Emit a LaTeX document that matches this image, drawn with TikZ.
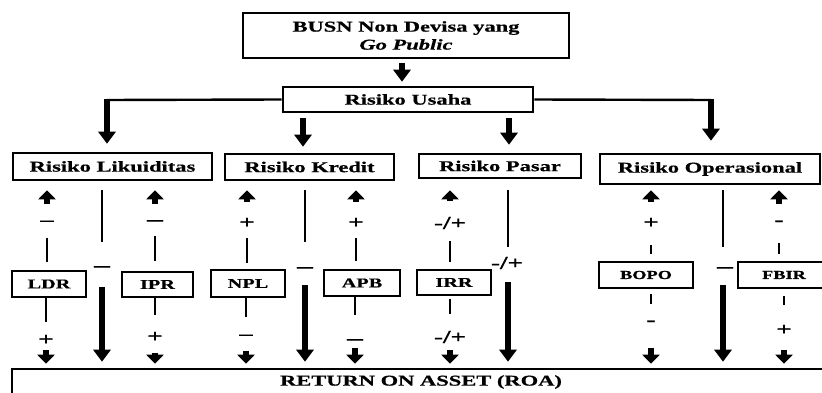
\documentclass[tikz,border=0pt]{standalone}
\usepackage{fontspec}
\setmainfont{Liberation Serif}[FakeStretch=1.5, BoldFeatures={FakeBold=0.6}, BoldItalicFeatures={FakeBold=0.6}]
\usetikzlibrary{arrows.meta}
\tikzset{
  box/.style={draw, line width=2.6pt, inner sep=0pt, align=center,
    font=\bfseries\fontsize{15}{18}\selectfont},
  smallbox/.style={box, font=\bfseries\fontsize{13.5}{16}\selectfont},
  tinybox/.style={box, font=\bfseries\fontsize{12.2}{15}\selectfont},
  thinln/.style={line width=2.4pt},
  bigarr/.style={line width=5.5pt, -{Triangle[length=12pt,width=17pt]}},
  smallarr/.style={line width=5.5pt, -{Triangle[length=9pt,width=17pt]}},
  sign/.style={inner sep=0pt, font=\bfseries\fontsize{18}{18}\selectfont},
  bigsign/.style={inner sep=0pt, font=\bfseries\fontsize{18}{18}\selectfont},
  dashsign/.style={inner sep=0pt, font=\bfseries\fontsize{21}{21}\selectfont},
}
\begin{document}
\begin{tikzpicture}[x=1pt,y=-1pt]
\useasboundingbox (0,0) rectangle (822,393);
\clip (0,0) rectangle (822,393);
\fill[white] (0,0) rectangle (822,393);

% boxes
\node[box, minimum width=326pt, minimum height=45pt] (top) at (406,35.5)
  {BUSN Non Devisa yang\\\textit{Go Public}};
\node[box, minimum width=250pt, minimum height=25pt] (usaha) at (408,99.5) {Risiko Usaha};
\node[box, minimum width=199pt, minimum height=27pt] (likuid) at (112.5,166.5) {Risiko Likuiditas};
\node[box, minimum width=169pt, minimum height=26pt] (kredit) at (309.5,167) {Risiko Kredit};
\node[box, minimum width=162pt, minimum height=24pt] (pasar) at (500,166) {Risiko Pasar};
\node[box, minimum width=220pt, minimum height=30pt] (operas) at (710,169) {Risiko Operasional};

\node[smallbox, minimum width=74pt, minimum height=26pt] (ldr) at (49,284) {LDR};
\node[smallbox, minimum width=71pt, minimum height=25pt] (ipr) at (157.5,284.5) {IPR};
\node[smallbox, minimum width=74pt, minimum height=27pt] (npl) at (248,283.5) {NPL};
\node[smallbox, minimum width=76pt, minimum height=26pt] (apb) at (362,283) {APB};
\node[smallbox, minimum width=74pt, minimum height=25pt] (irr) at (454,282.5) {IRR};
\node[tinybox, minimum width=94pt, minimum height=26pt] (bopo) at (646,275) {BOPO};
\node[tinybox, minimum width=92pt, minimum height=26pt] (fbir) at (784,275) {FBIR};
\node[box, minimum width=818pt, minimum height=26pt] (roa) at (421,382) {RETURN ON ASSET (ROA)};

% top connectors
\draw[bigarr, shorten <=4pt, shorten >=4pt] ([xshift=-4pt]top.south) -- ([xshift=-6pt]usaha.north);
\coordinate (kL) at (107,100);
\coordinate (kR) at (711,100);
\draw[thinln] (usaha.west) -- (kL);
\draw[thinln] (usaha.east) -- (kR);
\draw[bigarr, shorten <=-1.2pt, shorten >=8pt] (kL) -- (kL |- likuid.north);
\draw[bigarr, shorten <=-1.2pt, shorten >=12pt] (kR) -- (kR |- operas.north);
\draw[bigarr, shorten <=5pt, shorten >=6pt] ([xshift=-6.5pt]kredit.north |- usaha.south) -- ([xshift=-6.5pt]kredit.north);
\draw[bigarr, shorten <=5pt, shorten >=8pt] ([xshift=9pt]pasar.north |- usaha.south) -- ([xshift=9pt]pasar.north);

% sign labels, upper row
\node[sign] (sLt) at (47,223) {–};
\node[dashsign] (sIt) at (155,223) {–};
\node[sign] (sNt) at (247,223) {+};
\node[sign] (sAt) at (356,223) {+};
\node[bigsign] (sRt) at (450,223) {-/+};
\node[sign] (sBt) at (651,223) {+};
\node[sign] (sFt) at (779,223) {-};
% sign labels, lower row
\node[sign] (sLb) at (46,340) {+};
\node[sign] (sIb) at (155,337) {+};
\node[sign] (sNb) at (246,337) {–};
\node[dashsign] (sAb) at (355,342) {–};
\node[bigsign] (sRb) at (450,337) {-/+};
\node[sign] (sBb) at (651,323) {-};
\node[sign] (sFb) at (784,330) {+};
% sign labels, long columns
\node[dashsign] (sC1) at (102,269) {–};
\node[dashsign] (sC2) at (305,270) {–};
\node[bigsign] (sC3) at (507,263) {-/+};
\node[dashsign] (sC4) at (725,270) {–};

% LDR column
\draw[smallarr, shorten <=16pt, shorten >=9pt] (sLt) -- (sLt |- likuid.south);
\draw[thinln, shorten <=12pt, shorten >=8pt] (sLt) -- (sLt |- ldr.north);
\draw[thinln, shorten >=13pt] (sLb |- ldr.south) -- (sLb);
\draw[smallarr, shorten <=5pt, shorten >=4pt] (sLb) -- (sLb |- roa.north);
% IPR column
\draw[smallarr, shorten <=16pt, shorten >=9pt] (sIt) -- (sIt |- likuid.south);
\draw[thinln, shorten <=10pt, shorten >=10pt] (sIt) -- (sIt |- ipr.north);
\draw[thinln, shorten >=17pt] (sIb |- ipr.south) -- (sIb);
\draw[smallarr, shorten <=11pt, shorten >=4pt] (sIb) -- (sIb |- roa.north);
% NPL column
\draw[smallarr, shorten <=16pt, shorten >=9pt] (sNt) -- (sNt |- kredit.south);
\draw[thinln, shorten <=10pt, shorten >=6pt] (sNt) -- (sNt |- npl.north);
\draw[thinln, shorten >=17pt] (sNb |- npl.south) -- (sNb);
\draw[smallarr, shorten <=11pt, shorten >=4pt] (sNb) -- (sNb |- roa.north);
% APB column
\draw[smallarr, shorten <=16pt, shorten >=9pt] (sAt) -- (sAt |- kredit.south);
\draw[thinln, shorten <=10pt, shorten >=8pt] (sAt) -- (sAt |- apb.north);
\draw[thinln, shorten >=24pt] (sAb |- apb.south) -- (sAb);
\draw[smallarr, shorten <=3pt, shorten >=4pt] (sAb) -- (sAb |- roa.north);
% IRR column
\draw[smallarr, shorten <=16pt, shorten >=11pt] (sRt) -- (sRt |- pasar.south);
\draw[thinln, shorten <=12pt, shorten >=7pt] (sRt) -- (sRt |- irr.north);
\draw[thinln, shorten <=3pt, shorten >=17pt] (sRb |- irr.south) -- (sRb);
\draw[smallarr, shorten <=7pt, shorten >=4pt] (sRb) -- (sRb |- roa.north);
% BOPO column
\draw[smallarr, shorten <=16pt, shorten >=5pt] (sBt) -- (sBt |- operas.south);
\draw[thinln, shorten <=17pt, shorten >=7pt] (sBt) -- (sBt |- bopo.north);
\draw[thinln, shorten <=5pt, shorten >=16pt] (sBb |- bopo.south) -- (sBb);
\draw[smallarr, shorten <=22pt, shorten >=4pt] (sBb) -- (sBb |- roa.north);
% FBIR column
\draw[smallarr, shorten <=16pt, shorten >=5pt] (sFt) -- (sFt |- operas.south);
\draw[thinln, shorten <=17pt, shorten >=7pt] (sFt) -- (sFt |- fbir.north);
\draw[thinln, shorten <=7pt, shorten >=20pt] (sFb |- fbir.south) -- (sFb);
\draw[smallarr, shorten <=15pt, shorten >=4pt] (sFb) -- (sFb |- roa.north);

% long direct columns
\draw[thinln, shorten <=9pt, shorten >=24pt] (sC1 |- likuid.south) -- (sC1);
\draw[bigarr, shorten <=15pt, shorten >=6pt] (sC1) -- (sC1 |- roa.north);
\draw[thinln, shorten <=9pt, shorten >=25pt] (sC2 |- kredit.south) -- (sC2);
\draw[bigarr, shorten <=12pt, shorten >=6pt] (sC2) -- (sC2 |- roa.north);
\draw[thinln, shorten <=11pt, shorten >=16pt] ([xshift=1pt]sC3 |- pasar.south) -- ([xshift=1pt]sC3.center);
\draw[bigarr, shorten <=19pt, shorten >=6pt] ([xshift=1pt]sC3.center) -- ([xshift=1pt]sC3 |- roa.north);
\draw[thinln, shorten <=5pt, shorten >=23pt] ([xshift=-2pt]sC4 |- operas.south) -- ([xshift=-2pt]sC4.center);
\draw[bigarr, shorten <=15pt, shorten >=6pt] ([xshift=-2pt]sC4.center) -- ([xshift=-2pt]sC4 |- roa.north);
\end{tikzpicture}
\end{document}
